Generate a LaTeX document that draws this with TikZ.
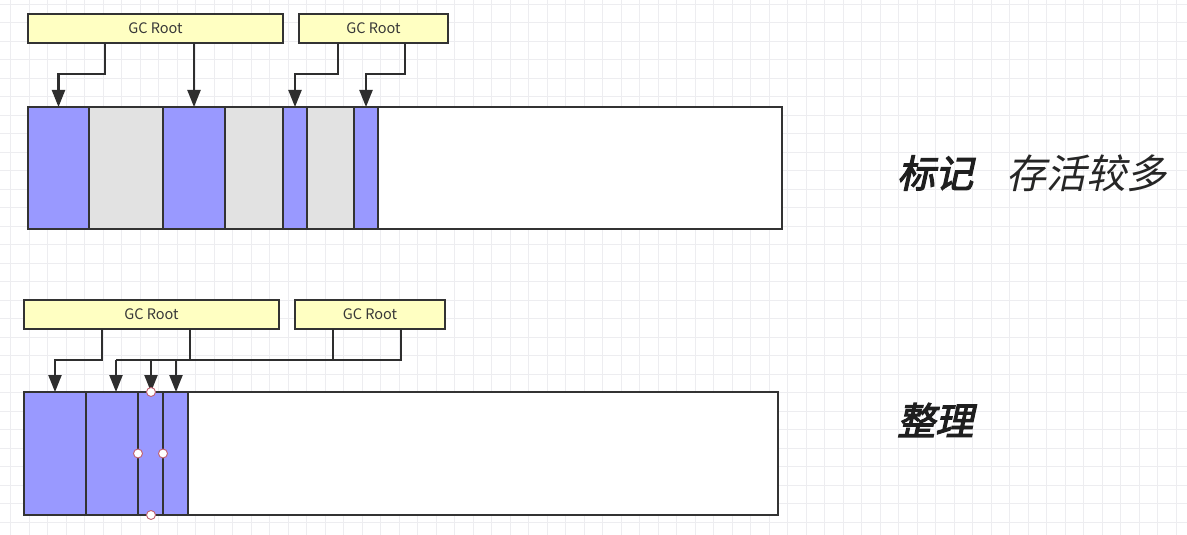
\documentclass[tikz,border=0pt]{standalone}
\usepackage{fontspec}
\newfontfamily\cjk{Noto Sans CJK SC}
\newfontfamily\cjksl[FakeSlant=0.22]{Noto Sans CJK SC}
\newfontfamily\cjkbsl[FakeSlant=0.22,FakeBold=3]{Noto Sans CJK SC}
\usetikzlibrary{arrows.meta}
\definecolor{live}{HTML}{9999FF}
\definecolor{dead}{HTML}{E2E2E2}
\definecolor{rootc}{HTML}{FFFFC2}
\definecolor{edge}{HTML}{333333}
\definecolor{gridc}{HTML}{EDEDF0}
\definecolor{handle}{HTML}{C06070}
\tikzset{
  cell/.style={draw=edge, line width=2pt, anchor=north west, inner sep=0pt, outer sep=0pt},
  root/.style={draw=edge, fill=rootc, line width=2pt, anchor=north west, inner sep=0pt, outer sep=0pt,
    font=\cjk\fontsize{14.5}{16}\selectfont, text=black!78},
  conn/.style={draw=edge!90!black, line width=2.2pt},
  arr/.style={conn, -{Triangle[width=13pt,length=17pt]}},
  hnd/.style={circle, draw=handle, fill=white, line width=0.9pt, inner sep=0pt, minimum size=9pt},
}
\begin{document}
\begin{tikzpicture}[x=1pt,y=-1pt]
\useasboundingbox[fill=white] (0,0) rectangle (1187,535);
% faint canvas grid
\foreach \i in {0,...,64} { \draw[gridc, line width=0.6pt] (10.5+18.5*\i,0) -- (10.5+18.5*\i,535); }
\foreach \j in {0,...,29} { \draw[gridc, line width=0.6pt] (0,4+18.5*\j) -- (1187,4+18.5*\j); }

% ---------- top: mark ----------
\node[root, minimum width=255pt, minimum height=29pt] (r1) at (28,14) {GC Root};
\node[root, minimum width=149pt, minimum height=29pt] (r2) at (299,14) {GC Root};

\node[cell, fill=white, minimum width=754pt, minimum height=122pt] (bar1) at (28,107) {};
\node[cell, fill=live, minimum width=61pt, minimum height=122pt] (c1) at (28,107) {};
\node[cell, fill=dead, minimum width=74pt, minimum height=122pt] (c2) at (89,107) {};
\node[cell, fill=live, minimum width=62pt, minimum height=122pt] (c3) at (163,107) {};
\node[cell, fill=dead, minimum width=58pt, minimum height=122pt] (c4) at (225,107) {};
\node[cell, fill=live, minimum width=24pt, minimum height=122pt] (c5) at (283,107) {};
\node[cell, fill=dead, minimum width=47pt, minimum height=122pt] (c6) at (307,107) {};
\node[cell, fill=live, minimum width=24pt, minimum height=122pt] (c7) at (354,107) {};

\coordinate (k1) at (105,74);
\coordinate (k2) at (338,74);
\coordinate (k3) at (405,74);
\draw[arr] (r1.south -| k1) -- (k1) -| (c1.north);
\draw[arr] (r1.south -| c3.north) -- (c3.north);
\draw[arr] (r2.south -| k2) -- (k2) -| (c5.north);
\draw[arr] (r2.south -| k3) -- (k3) -| (c7.north);

\node[anchor=west, inner sep=0pt, font=\cjkbsl\fontsize{38}{42}\selectfont, text=black!88] (t1) at (897,173) {标记};
\node[anchor=west, inner sep=0pt, font=\cjksl\fontsize{40}{42}\selectfont, text=black!85] (t2) at (1006,173) {存活较多};

% ---------- bottom: compact ----------
\node[root, minimum width=255pt, minimum height=29pt] (r3) at (24,300) {GC Root};
\node[root, minimum width=150pt, minimum height=29pt] (r4) at (295,300) {GC Root};

\node[cell, fill=white, minimum width=754pt, minimum height=123pt] (bar2) at (24,392) {};
\node[cell, fill=live, minimum width=62pt, minimum height=123pt] (d1) at (24,392) {};
\node[cell, fill=live, minimum width=52pt, minimum height=123pt] (d2) at (86,392) {};
\node[cell, fill=live, minimum width=25pt, minimum height=123pt] (d3) at (138,392) {};
\node[cell, fill=live, minimum width=25pt, minimum height=123pt] (d4) at (163,392) {};

\coordinate (m1) at (102,360);
\coordinate (ja) at (116,360);
\coordinate (jb) at (151,360);
\coordinate (jc) at (176,360);
\coordinate (jd) at (190,360);
\coordinate (je) at (333,360);
\coordinate (jf) at (401,360);
\draw[arr] (r3.south -| m1) -- (m1) -| (d1.north);
\draw[conn] (r3.south -| jd) -- (jd);
\draw[conn] (r4.south -| je) -- (je);
\draw[conn] (r4.south -| jf) -- (jf) -- (ja);
\draw[arr] (ja) -- (d2.north -| ja);
\draw[arr] (jb) -- (d3.north -| jb);
\draw[arr] (jc) -- (d4.north -| jc);

\node[hnd] (h1) at (d3.north east -| jb) {};
\node[hnd] (h2) at (d3.south east -| jb) {};
\node[hnd] (h3) at (d3.west) {};
\node[hnd] (h4) at (d3.east) {};

\node[anchor=west, inner sep=0pt, font=\cjkbsl\fontsize{38}{42}\selectfont, text=black!88] (t3) at (897,420) {整理};
\end{tikzpicture}
\end{document}
